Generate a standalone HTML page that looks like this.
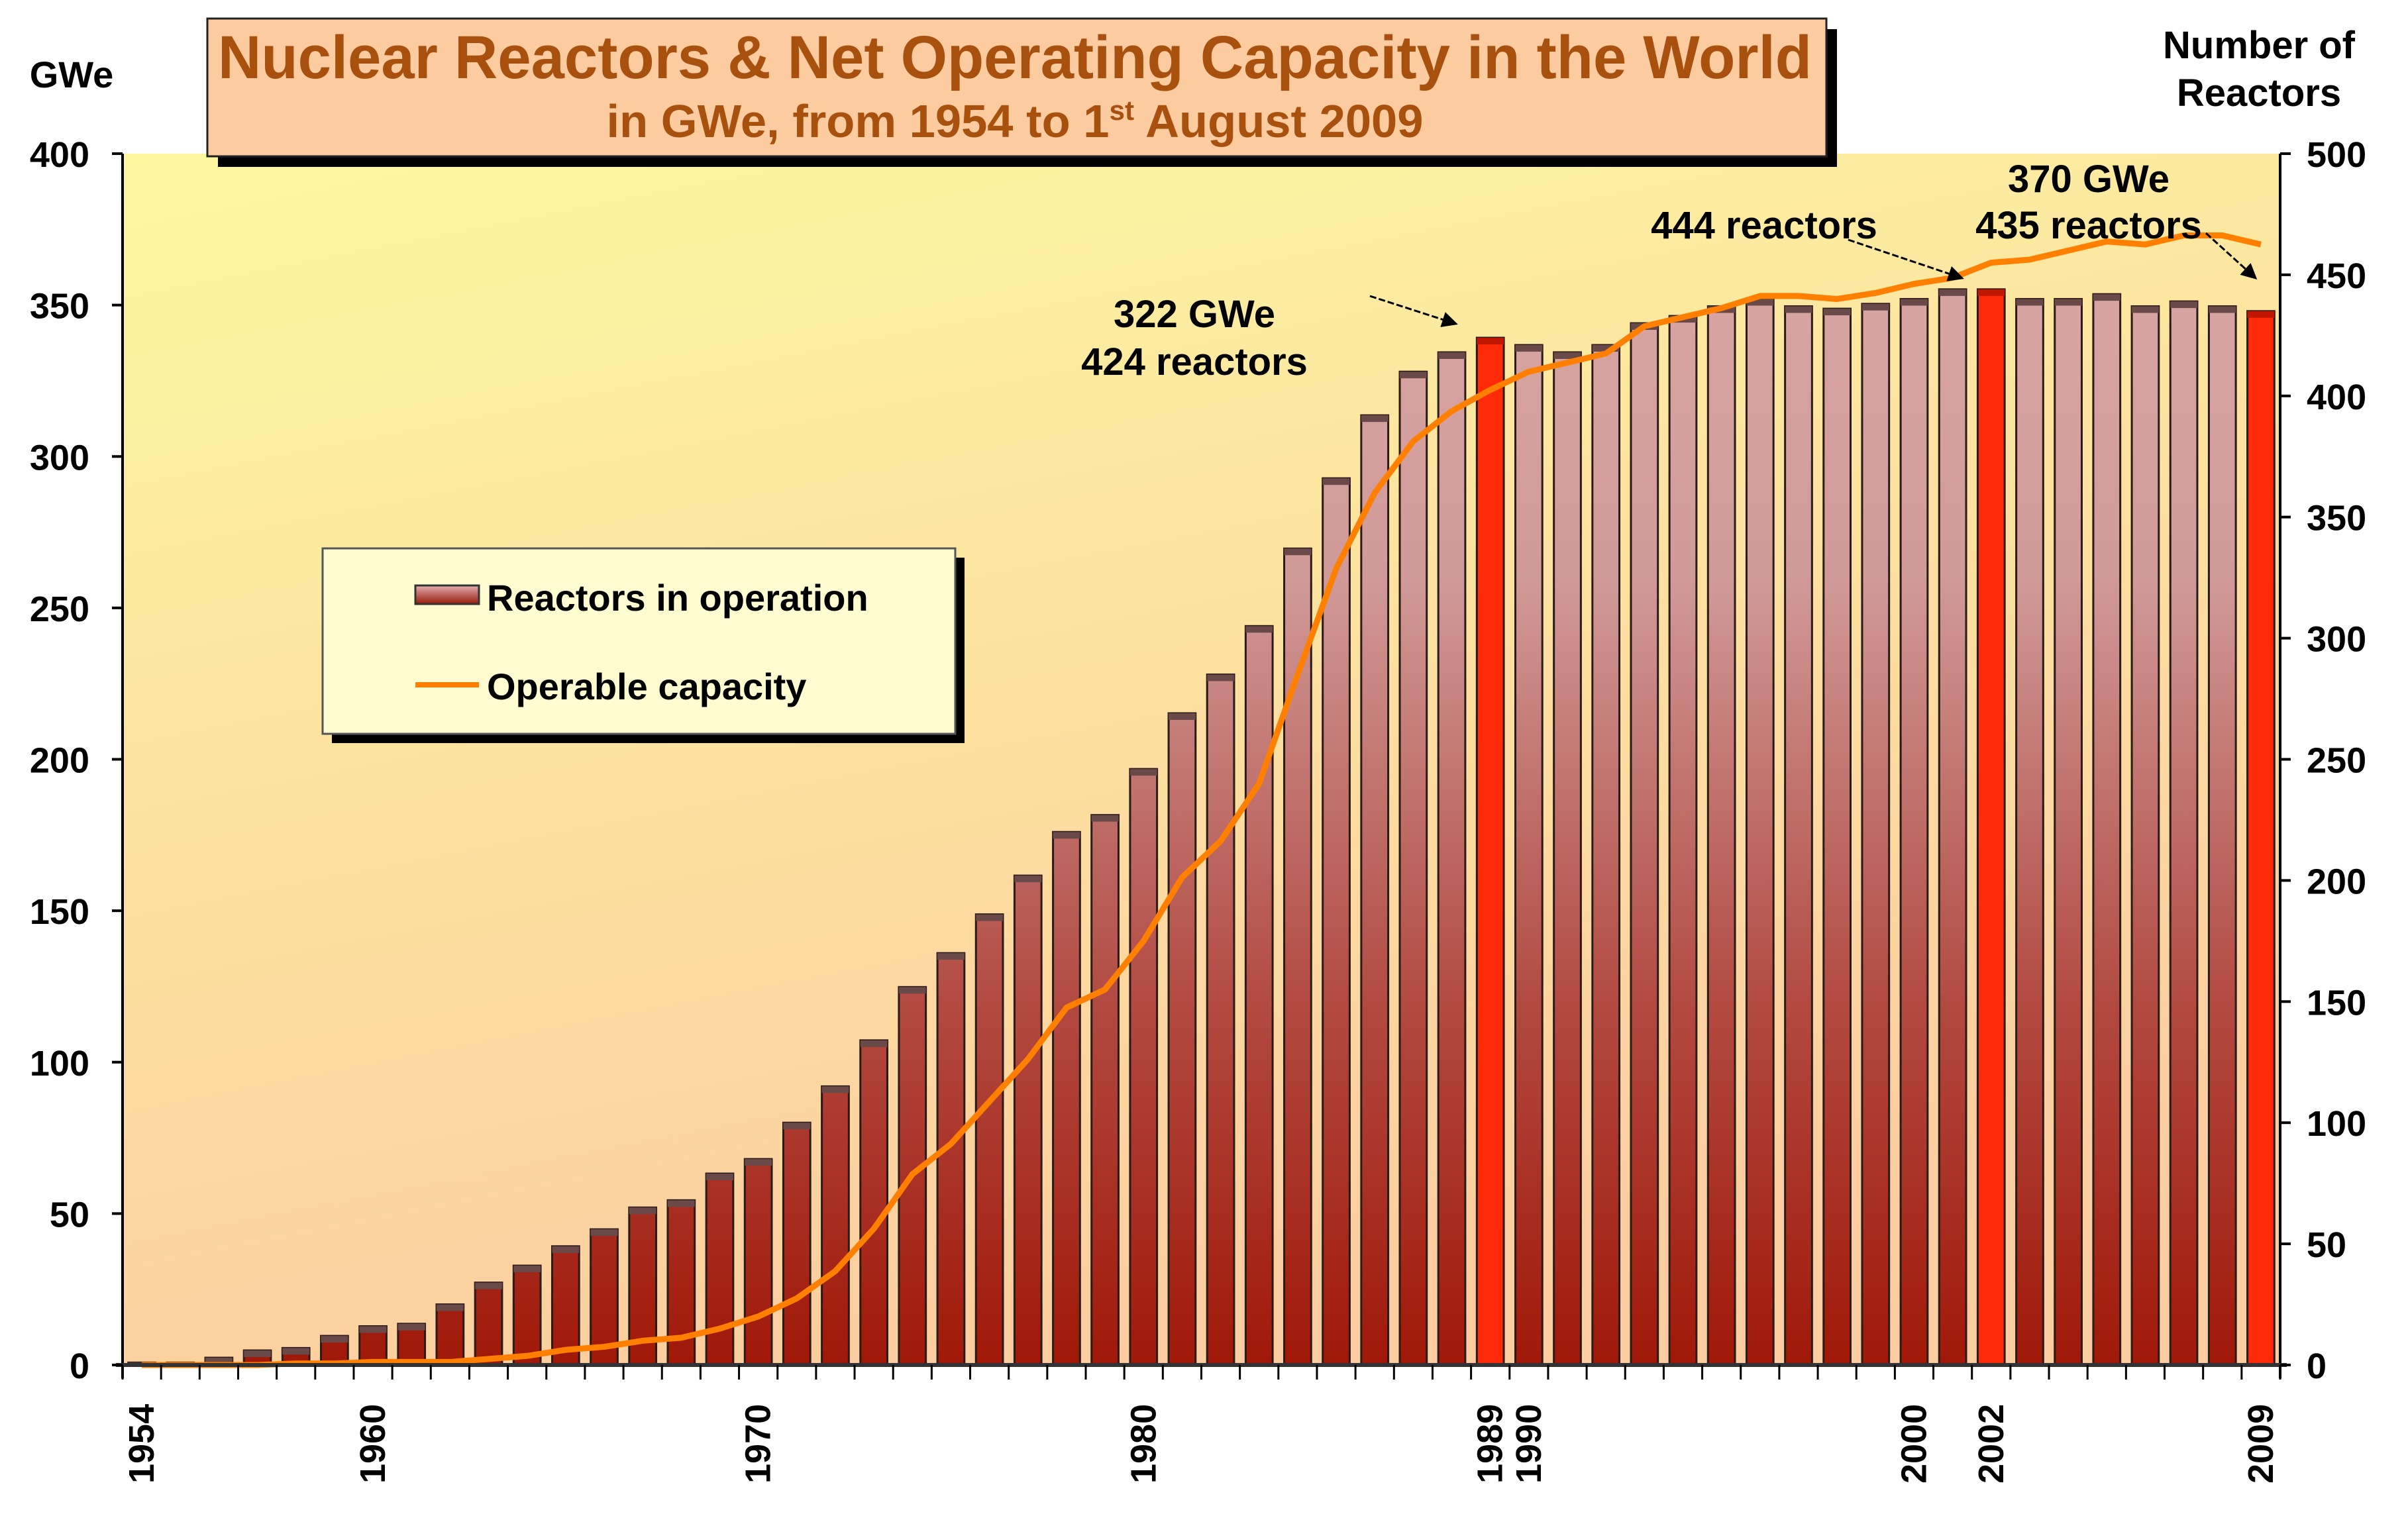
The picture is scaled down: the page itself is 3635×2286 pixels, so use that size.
<!DOCTYPE html>
<html><head><meta charset="utf-8"><style>
html,body{margin:0;padding:0;background:#fff;}
svg{display:block;}
text{font-family:"Liberation Sans Narrow","Liberation Sans",sans-serif;font-weight:bold;}
</style></head><body>
<svg id="chart" width="3635" height="2286" viewBox="0 0 3635 2286" xmlns="http://www.w3.org/2000/svg">
<defs>
<linearGradient id="bg" x1="0" y1="0" x2="0.35" y2="1">
<stop offset="0" stop-color="#fdf7a0"/><stop offset="1" stop-color="#fbcda0"/>
</linearGradient>
<linearGradient id="barg" x1="0" y1="0" x2="0" y2="1">
<stop offset="0" stop-color="#e2b2b2"/><stop offset="0.45" stop-color="#c06a68"/><stop offset="1" stop-color="#9a1a08"/>
</linearGradient>
<linearGradient id="barw" gradientUnits="userSpaceOnUse" x1="0" y1="232" x2="0" y2="2061">
<stop offset="0" stop-color="#dcaaa8"/><stop offset="0.35" stop-color="#d09a98"/><stop offset="0.7" stop-color="#b24a42"/><stop offset="1" stop-color="#a01808"/>
</linearGradient>
<marker id="ah" markerWidth="8" markerHeight="8" refX="7" refY="4" orient="auto" markerUnits="strokeWidth">
<path d="M0,0 L8,4 L0,8 z" fill="#000"/></marker>
</defs>
<rect x="185" y="232" width="3257" height="1829" fill="url(#bg)"/>
<g id="bars"></g>
<polyline id="capline" fill="none" stroke="#ff8000" stroke-width="9" stroke-linejoin="round"/>
<g id="axes"></g>
<!-- title -->
<rect x="329" y="44" width="2444" height="208" fill="#000"/>
<rect x="313" y="28" width="2444" height="208" fill="#fccca0" stroke="#222" stroke-width="3"/>
<text x="1532" y="118" text-anchor="middle" font-size="92" fill="#a8500e" textLength="2406" lengthAdjust="spacingAndGlyphs">Nuclear Reactors &amp; Net Operating Capacity in the World</text>
<text x="1532" y="207" text-anchor="middle" font-size="70" fill="#a8500e" textLength="1233" lengthAdjust="spacingAndGlyphs">in GWe, from 1954 to 1<tspan font-size="42" dy="-26">st</tspan><tspan dy="26"> August 2009</tspan></text>
<text x="108" y="132" text-anchor="middle" font-size="56">GWe</text>
<text x="3410" y="88" text-anchor="middle" font-size="58">Number of</text>
<text x="3410" y="160" text-anchor="middle" font-size="58">Reactors</text>
<!-- legend -->
<rect x="501" y="842" width="955" height="280" fill="#000"/>
<rect x="487" y="828" width="955" height="280" fill="#fffcd2" stroke="#555" stroke-width="3"/>
<rect x="627" y="884" width="96" height="28" fill="url(#barg)" stroke="#333" stroke-width="3"/>
<text x="735" y="922" font-size="56">Reactors in operation</text>
<line x1="627" y1="1034" x2="723" y2="1034" stroke="#ff8000" stroke-width="8"/>
<text x="735" y="1056" font-size="56">Operable capacity</text>
<!-- annotations -->
<text x="1803" y="494" text-anchor="middle" font-size="58">322 GWe</text>
<text x="1803" y="566" text-anchor="middle" font-size="58">424 reactors</text>
<line x1="2068" y1="447" x2="2198" y2="489" stroke="#000" stroke-width="3" stroke-dasharray="10,4" marker-end="url(#ah)"/>
<text x="2663" y="360" text-anchor="middle" font-size="58">444 reactors</text>
<line x1="2790" y1="362" x2="2962" y2="420" stroke="#000" stroke-width="3" stroke-dasharray="10,4" marker-end="url(#ah)"/>
<text x="3153" y="290" text-anchor="middle" font-size="58">370 GWe</text>
<text x="3153" y="360" text-anchor="middle" font-size="58">435 reactors</text>
<line x1="3330" y1="352" x2="3405" y2="420" stroke="#000" stroke-width="3" stroke-dasharray="10,4" marker-end="url(#ah)"/>
</svg>
<script>
const years = [];
for (let y = 1954; y <= 2009; y++) years.push(y);
const reactors = [1,1,3,6,7,12,16,17,25,34,41,49,56,65,68,79,85,100,115,134,156,170,186,202,220,227,246,269,285,305,337,366,392,410,418,424,421,418,421,430,433,437,440,437,436,438,440,444,444,440,440,442,437,439,437,435];
const capacity = [0,0,0,0,0.5,0.5,1,1,1,2,3,5,6,8,9,12,16,22,31,45,63,73,87,101,118,124,140,161,173,192,228,263,288,305,315,322,328,331,334,343,346,349,353,353,352,354,357,359,364,365,368,371,370,373,373,370];
const highlightYears = [1989,2002,2009];
const labelYears = [1954,1960,1970,1980,1989,1990,2000,2002,2009];
const leftTicks = [0,50,100,150,200,250,300,350,400];
const rightTicks = [0,50,100,150,200,250,300,350,400,450,500];

const NS = "http://www.w3.org/2000/svg";
const L = 185, R = 3442, T = 232, B = 2061;
const step = (R - L) / years.length;
const xc = i => L + step * (i + 0.5);
const yL = v => B - (v / 400) * (B - T);
const yR = v => B - (v / 500) * (B - T);
function mk(tag, attrs, parent) {
  const e = document.createElementNS(NS, tag);
  for (const k in attrs) e.setAttribute(k, attrs[k]);
  parent.appendChild(e);
  return e;
}
const bars = document.getElementById('bars');
const bw = step * 0.7;
reactors.forEach((v, i) => {
  const hi = highlightYears.includes(years[i]);
  const top = yR(v);
  const r = mk('rect', {x: xc(i) - bw / 2, y: top, width: bw, height: B - top,
    fill: hi ? '#ff2a08' : 'url(#barw)', stroke: '#2a1a18', 'stroke-width': 3}, bars);
  
  
  const cap = mk('rect', {x: xc(i) - bw / 2, y: top, width: bw, height: Math.min(10, B - top), fill: hi ? '#c01800' : '#6a4a48'}, bars);
  
  
});
document.getElementById('capline').setAttribute('points',
  capacity.map((v, i) => xc(i) + ',' + yL(v)).join(' '));

const ax = document.getElementById('axes');
const a1 = mk('line', {x1: L, y1: T, x2: L, y2: B + 20, stroke: '#000', 'stroke-width': 4}, ax);
 
const a2 = mk('line', {x1: R, y1: T, x2: R, y2: B + 20, stroke: '#000', 'stroke-width': 4}, ax);
 
const a3 = mk('line', {x1: L - 10, y1: B, x2: R + 10, y2: B, stroke: '#333', 'stroke-width': 6}, ax);
 
leftTicks.forEach(v => {
  mk('line', {x1: L - 16, y1: yL(v), x2: L, y2: yL(v), stroke: '#000', 'stroke-width': 4}, ax);
  const t = mk('text', {x: L - 50, y: yL(v) + 20, 'text-anchor': 'end', 'font-size': 54}, ax);
  t.textContent = v;
  
  
});
rightTicks.forEach(v => {
  mk('line', {x1: R, y1: yR(v), x2: R + 16, y2: yR(v), stroke: '#000', 'stroke-width': 4}, ax);
  const t = mk('text', {x: R + 40, y: yR(v) + 20, 'text-anchor': 'start', 'font-size': 54}, ax);
  t.textContent = v;
  
  
});
for (let i = 0; i <= years.length; i++) {
  mk('line', {x1: L + step * i, y1: B, x2: L + step * i, y2: B + 22, stroke: '#000', 'stroke-width': 3}, ax);
}
labelYears.forEach(y => {
  const i = years.indexOf(y);
  const x = xc(i) + 18;
  const t = mk('text', {x: x, y: 2240, 'text-anchor': 'start', 'font-size': 54, transform: 'rotate(-90 ' + x + ' 2240)'}, ax);
  t.textContent = y;
  
  
});
</script>
</body></html>
